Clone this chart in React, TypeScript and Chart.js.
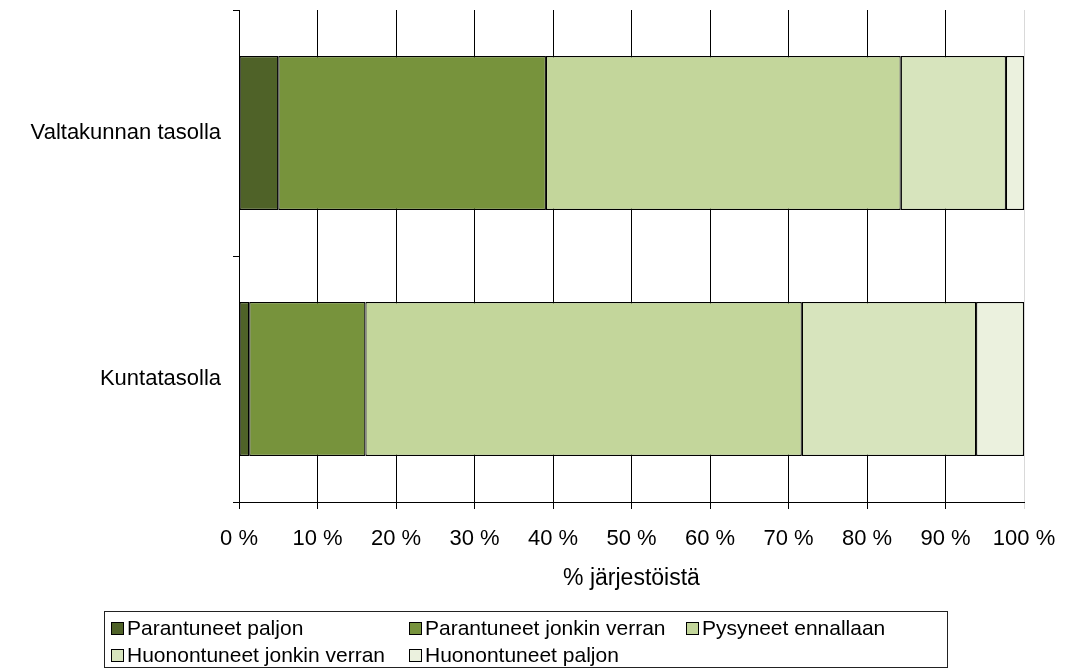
import React, { useEffect, useRef } from "react";
import { Chart, registerables } from "chart.js";

Chart.register(...registerables);

const categories = ["Valtakunnan tasolla", "Kuntatasolla"];
const seriesNames = [
  "Parantuneet paljon",
  "Parantuneet jonkin verran",
  "Pysyneet ennallaan",
  "Huonontuneet jonkin verran",
  "Huonontuneet paljon",
];
const parantuneetPaljon = [5.0, 1.3];
const parantuneetJonkinVerran = [34.1, 14.8];
const pysyneetEnnallaan = [45.2, 55.6];
const huonontuneetJonkinVerran = [13.4, 22.2];
const huonontuneetPaljon = [2.3, 6.1];
const seriesValues = [
  parantuneetPaljon,
  parantuneetJonkinVerran,
  pysyneetEnnallaan,
  huonontuneetJonkinVerran,
  huonontuneetPaljon,
];
const seriesColors = ["#4F6228", "#77933C", "#C3D69B", "#D7E4BD", "#EBF1DE"];
const xTicks = [0, 10, 20, 30, 40, 50, 60, 70, 80, 90, 100];
const xTitle = "% järjestöistä";

const FONT = "'Liberation Sans', Arial, sans-serif";
const W = 1067;
const H = 671;

// legend grid layout (presentation only)
const legendCols = [111, 409, 686];
const legendRows = [621, 648];

export default function App() {
  const ref = useRef<HTMLCanvasElement | null>(null);

  useEffect(() => {
    if (!ref.current) return;
    const chart = new Chart(ref.current, {
      type: "bar",
      data: {
        labels: categories,
        datasets: seriesNames.map((name, i) => ({
          label: name,
          data: seriesValues[i],
          backgroundColor: seriesColors[i],
          borderColor: "#000000",
          borderWidth: 1.2,
          borderSkipped: false,
          categoryPercentage: 1,
          barPercentage: 0.626,
        })),
      },
      options: {
        indexAxis: "y",
        responsive: false,
        animation: false,
        devicePixelRatio: 1,
        layout: { padding: { left: 0, top: 10, right: W - 1024, bottom: 79 } },
        plugins: {
          legend: { display: false },
          tooltip: { enabled: false },
        },
        scales: {
          x: {
            type: "linear",
            stacked: true,
            min: 0,
            max: 100,
            afterBuildTicks: (scale: any) => {
              scale.ticks = xTicks.map((v) => ({ value: v }));
            },
            afterFit: (scale: any) => {
              scale.height = 90;
              scale.paddingLeft = 0;
              scale.paddingRight = 0;
            },
            ticks: {
              color: "#000",
              font: { family: FONT, size: 22 },
              padding: 17,
              maxRotation: 0,
              autoSkip: false,
              callback: (v: any) => v + " %",
            },
            grid: {
              color: (ctx: any) =>
                ctx.tick && ctx.tick.value === 100 ? "#d9d9d9" : "#000",
              lineWidth: 1,
              drawTicks: true,
              tickLength: 7,
            },
            border: { display: true, color: "#000", width: 1 },
            title: {
              display: true,
              text: xTitle,
              color: "#000",
              font: { family: FONT, size: 23 },
              padding: { top: 0, bottom: 0 },
            },
          },
          y: {
            type: "category",
            stacked: true,
            offset: true,
            afterFit: (scale: any) => {
              scale.width = 239;
              scale.paddingTop = 0;
              scale.paddingBottom = 0;
            },
            ticks: {
              color: "#000",
              font: { family: FONT, size: 22 },
              padding: 12,
            },
            grid: {
              offset: true,
              drawOnChartArea: false,
              drawTicks: true,
              tickLength: 6,
              color: "#000",
            },
            border: { display: true, color: "#000", width: 1 },
          },
        },
      },
    });
    return () => chart.destroy();
  }, []);

  return (
    <div
      style={{
        position: "fixed",
        left: 0,
        top: 0,
        width: W,
        height: H,
        background: "#fff",
        fontFamily: FONT,
      }}
    >
      <canvas ref={ref} width={W} height={H} style={{ position: "absolute", left: 0, top: 0 }} />
      <div
        style={{
          position: "absolute",
          left: 104,
          top: 611,
          width: 844,
          height: 57,
          border: "1px solid #222",
          boxSizing: "border-box",
        }}
      />
      {seriesNames.map((name, i) => {
        const col = i % 3;
        const row = Math.floor(i / 3);
        return (
          <div
            key={name}
            style={{
              position: "absolute",
              left: legendCols[col],
              top: legendRows[row],
              height: 14,
              display: "flex",
              alignItems: "center",
              whiteSpace: "nowrap",
            }}
          >
            <div
              style={{
                width: 13,
                height: 13,
                boxSizing: "border-box",
                border: "1px solid #000",
                background: seriesColors[i],
                marginRight: 3,
              }}
            />
            <span style={{ fontSize: 21, lineHeight: "14px", color: "#000" }}>{name}</span>
          </div>
        );
      })}
    </div>
  );
}
